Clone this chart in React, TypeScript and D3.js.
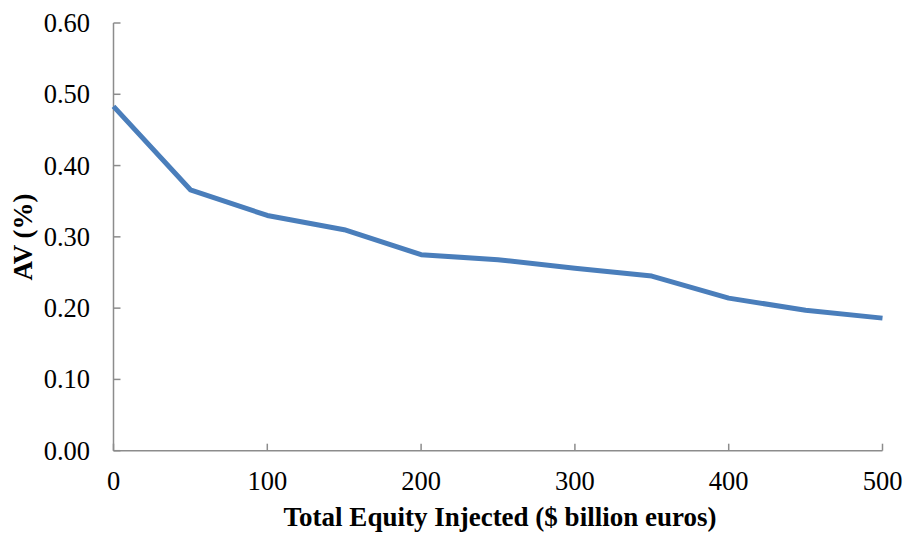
import React, { useEffect, useRef } from "react";
import * as d3 from "d3";

// Total equity injected ($ billion euros)
const injected = [0, 50, 100, 150, 200, 250, 300, 350, 400, 450, 500];
// AV (%)
const avValues = [0.483, 0.366, 0.33, 0.31, 0.275, 0.268, 0.256, 0.245, 0.214, 0.197, 0.186];
const xTicks = [0, 100, 200, 300, 400, 500];
const yTicks = [0, 0.1, 0.2, 0.3, 0.4, 0.5, 0.6];

const W = 904;
const H = 533;

const App = () => {
  const ref = useRef<SVGSVGElement | null>(null);

  useEffect(() => {
    const svg = d3.select(ref.current);
    svg.selectAll("*").remove();

    const x = d3.scaleLinear().domain([0, 500]).range([113.5, 882.5]);
    const y = d3.scaleLinear().domain([0, 0.6]).range([450.7, 23]);
    const font = "'Liberation Serif', 'Times New Roman', serif";
    const axisColor = "#8c8c8c";

    // axes lines
    svg.append("line")
      .attr("x1", x(0)).attr("x2", x(0))
      .attr("y1", y(0)).attr("y2", y(0.6))
      .attr("stroke", axisColor).attr("stroke-width", 1.5);
    svg.append("line")
      .attr("x1", x(0)).attr("x2", x(500))
      .attr("y1", y(0)).attr("y2", y(0))
      .attr("stroke", axisColor).attr("stroke-width", 1.5);

    // y ticks + labels
    svg.selectAll(".ytick")
      .data(yTicks)
      .enter()
      .append("line")
      .attr("x1", x(0)).attr("x2", x(0) + 7)
      .attr("y1", (d) => y(d)).attr("y2", (d) => y(d))
      .attr("stroke", axisColor).attr("stroke-width", 1.5);
    svg.selectAll(".ylab")
      .data(yTicks)
      .enter()
      .append("text")
      .attr("x", 90)
      .attr("y", (d) => y(d) + 9)
      .attr("text-anchor", "end")
      .attr("font-family", font)
      .attr("font-size", 26.5)
      .text((d) => d3.format(".2f")(d));

    // x ticks + labels
    svg.selectAll(".xtick")
      .data(xTicks)
      .enter()
      .append("line")
      .attr("x1", (d) => x(d)).attr("x2", (d) => x(d))
      .attr("y1", y(0)).attr("y2", y(0) - 7)
      .attr("stroke", axisColor).attr("stroke-width", 1.5);
    svg.selectAll(".xlab")
      .data(xTicks)
      .enter()
      .append("text")
      .attr("x", (d) => x(d))
      .attr("y", 490)
      .attr("text-anchor", "middle")
      .attr("font-family", font)
      .attr("font-size", 26.5)
      .text((d) => d);

    // line
    const line = d3.line<number>()
      .x((_, i) => x(injected[i]))
      .y((d) => y(d));
    svg.append("path")
      .datum(avValues)
      .attr("d", line)
      .attr("fill", "none")
      .attr("stroke", "#4a7ebb")
      .attr("stroke-width", 5)
      .attr("stroke-linejoin", "round");

    // axis titles
    svg.append("text")
      .attr("x", 500).attr("y", 526)
      .attr("text-anchor", "middle")
      .attr("font-family", font)
      .attr("font-weight", "bold")
      .attr("font-size", 27)
      .text("Total Equity Injected ($ billion euros)");
    svg.append("text")
      .attr("transform", "translate(32,237) rotate(-90)")
      .attr("text-anchor", "middle")
      .attr("font-family", font)
      .attr("font-weight", "bold")
      .attr("font-size", 27)
      .text("AV (%)");
  }, []);

  return (
    <svg
      ref={ref}
      width={W}
      height={H}
      style={{ position: "absolute", left: 0, top: 0, background: "#fff" }}
    />
  );
};

export default App;
